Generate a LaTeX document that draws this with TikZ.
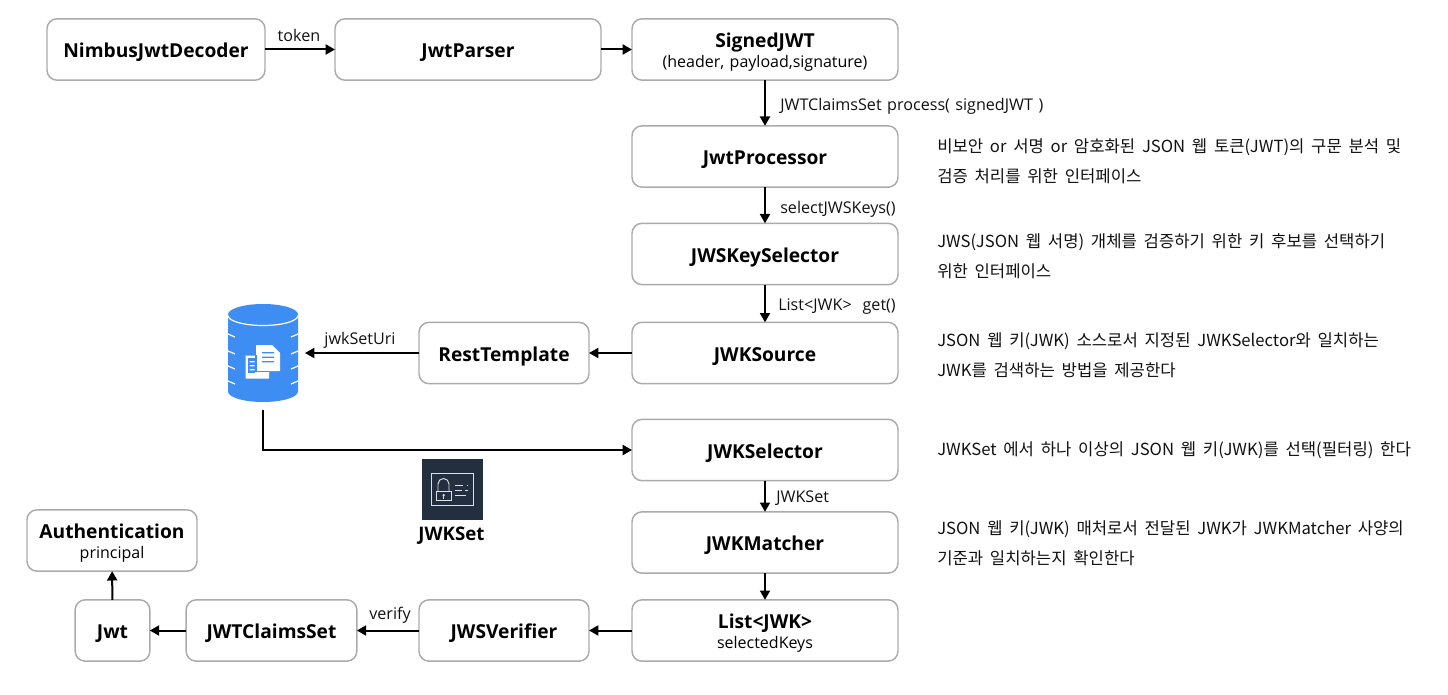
\documentclass[tikz,border=0pt]{standalone}
\usepackage{fontspec}
\setmainfont{Open Sans}[WordSpace=1.3]
\newfontfamily\kr{Noto Sans CJK KR}[WordSpace=1.8]
\usetikzlibrary{arrows.meta,calc}
\definecolor{edge}{HTML}{ABABAB}
\definecolor{dbblue}{HTML}{3D8DF2}
\definecolor{icondark}{HTML}{232F3E}
\definecolor{ink}{HTML}{111111}
\newcommand\onestrut{\rule[-3.5pt]{0pt}{19.5pt}}
\newcommand\twostrut{\rule{0pt}{15pt}}
\newcommand\subtext[1]{{\fontsize{12}{14}\selectfont\mdseries #1}}
\tikzset{
  x=0.75pt,y=-0.75pt,
  box/.style={draw=edge,line width=1.1pt,rounded corners=7.5pt,fill=white,inner sep=0pt,outer sep=0pt,align=center,text=black,font=\fontsize{14.4}{17}\selectfont\bfseries,minimum width=#1},
  box/.default=199.5pt,
  rowh/.style={minimum height=46pt},
  flow/.style={-{Triangle[length=7pt,width=7.5pt]},line width=1.5pt,black},
  lab/.style={font=\fontsize{12.1}{14}\selectfont,text=ink,inner sep=0pt},
  desc/.style={font=\kr\fontsize{12.5}{22.5}\selectfont,text=ink,inner sep=0pt,anchor=west,align=left},
  ph/.style={inner sep=0pt,outer sep=0pt,minimum width=63pt,minimum height=79.5pt},
  wl/.style={white,line width=0.9pt},
  cardl/.style={white!85!icondark,line width=0.7pt},
}
\begin{document}
\begin{tikzpicture}
\useasboundingbox (0,0) rectangle (1448,695);
% top row
\node[box=163.5pt,rowh] (nimbus) at (156,49.5) {\onestrut NimbusJwtDecoder};
\node[box,rowh] (parser) at (468,49.5) {\onestrut JwtParser};
\node[box,rowh] (signed) at (765,49.5) {\twostrut SignedJWT\\[-2.5pt]\subtext{(header, payload,signature)}};
% centre column
\node[box,rowh] (proc) at (765,156.5) {\onestrut JwtProcessor};
\node[box,rowh] (keysel) at (765,254) {\onestrut JWSKeySelector};
\node[box,rowh] (source) at (765,353) {\onestrut JWKSource};
\node[box=127.5pt,rowh] (rest) at (504,353) {\onestrut RestTemplate};
\node[box,rowh] (selector) at (765,450) {\onestrut JWKSelector};
\node[box,rowh] (matcher) at (765,542.5) {\onestrut JWKMatcher};
\node[box,rowh] (list) at (765,630.5) {\twostrut List<JWK>\\[-1.6pt]\subtext{selectedKeys}};
% bottom row
\node[box=127.5pt,rowh] (verifier) at (504,630.5) {\onestrut JWSVerifier};
\node[box=128pt,rowh] (claims) at (271.5,630.5) {\onestrut JWTClaimsSet};
\node[box=56pt,rowh] (jwt) at (112.5,630.5) {\onestrut Jwt};
\node[box=127.5pt,rowh] (auth) at (112,540.5) {\twostrut Authentication\\[-2.5pt]\subtext{principal}};
% database
\node[ph] (db) at (263,357) {};
\fill[dbblue] (228,314.5) arc[start angle=180,end angle=360,x radius=35,y radius=10.5]
  -- (298,391.5) arc[start angle=0,end angle=180,x radius=35,y radius=10.5] -- cycle;
\draw[wl] (228,315.5) arc[start angle=180,end angle=0,x radius=35,y radius=10];
\foreach \yy in {337,354,369,384}{
  \draw[wl] (228,\yy-3) -- (235,\yy);
  \draw[wl] (298,\yy-3) -- (291,\yy);
}
\fill[white] (245.5,355.5) -- (256,355.5) -- (256,345) -- (272,345) -- (280,353) -- (280,371) -- (269,371) -- (269,378.5) -- (245.5,378.5) -- cycle;
\fill[dbblue] (248,358) rectangle (254.5,376);
\fill[white] (249.5,361) rectangle (254.5,362.3) (249.5,365) rectangle (254.5,366.3) (249.5,369) rectangle (254.5,370.3);
\fill[white] (248,372.5) rectangle (256,376);
\draw[dbblue,line width=0.9pt] (256,355) -- (256,371.5) -- (269,371.5);
\fill[dbblue] (262,352) rectangle (274,353.4) (262,356.5) rectangle (274,357.9) (262,361) rectangle (274,362.4);
% card icon
\node[inner sep=0pt,minimum size=45.75pt,fill=icondark] (icon) at (452.5,489.5) {};
\draw[cardl] (431.7,473.5) rectangle (473.3,505);
\draw[cardl] (436,491.5) rectangle (451.5,500.5);
\draw[cardl] (438,491.5) -- (438,484) arc[start angle=180,end angle=360,x radius=5.5,y radius=5.5] -- (449,491.5);
\fill[white!85!icondark] (443.7,495.2) circle[radius=1.3];
\draw[cardl] (443.7,495) -- (443.7,498.5);
\draw[cardl] (455,485) -- (463,485) (467,485) -- (468,485) (455,490) -- (462,490) (465,490) -- (468,490) (455,495) -- (466,495);
\node[font=\fontsize{14}{16}\selectfont\bfseries,inner sep=0pt] (jwksetcap) at (451.5,536) {JWKSet};
% connectors
\draw[flow] (nimbus) -- (parser);
\draw[flow] (parser) -- (signed);
\draw[flow] (signed) -- (proc);
\draw[flow] (proc) -- (keysel);
\draw[flow] (keysel) -- (source);
\draw[flow] (source) -- (rest);
\draw[flow] (rest.west) -- (db.east |- rest.west);
\draw[flow] (db.south) |- (selector.west);
\draw[flow] (selector) -- (matcher);
\draw[flow] (matcher) -- (list);
\draw[flow] (list) -- (verifier);
\draw[flow] (verifier) -- (claims);
\draw[flow] (claims) -- (jwt);
\draw[flow] (jwt) -- (auth);
% connector labels
\node[lab] (ltoken) at (299,35) {token};
\node[lab,anchor=west] (lproc) at (780,106.5) {JWTClaimsSet process( signedJWT )};
\node[lab,anchor=west] (lsel) at (780,209.5) {selectJWSKeys()};
\node[lab,anchor=west] (lget) at (778,306.5) {List<JWK>\ \ get()};
\node[lab] (luri) at (360,340) {jwkSetUri};
\node[lab,anchor=west] (lset) at (776,498) {JWKSet};
\node[lab] (lver) at (390,615) {verify};
% descriptions
\node[desc] (d1) at (937,161.5) {비보안 or 서명 or 암호화된 JSON 웹 토큰(JWT)의 구문 분석 및\\검증 처리를 위한 인터페이스};
\node[desc] (d2) at (937,256.5) {JWS(JSON 웹 서명) 개체를 검증하기 위한 키 후보를 선택하기\\위한 인터페이스};
\node[desc] (d3) at (937,355.5) {JSON 웹 키(JWK) 소스로서 지정된 JWKSelector와 일치하는\\JWK를 검색하는 방법을 제공한다};
\node[desc] (d4) at (937,450.5) {JWKSet 에서 하나 이상의 JSON 웹 키(JWK)를 선택(필터링) 한다};
\node[desc] (d5) at (937,543.5) {JSON 웹 키(JWK) 매처로서 전달된 JWK가 JWKMatcher 사양의\\기준과 일치하는지 확인한다};
\end{tikzpicture}
\end{document}
